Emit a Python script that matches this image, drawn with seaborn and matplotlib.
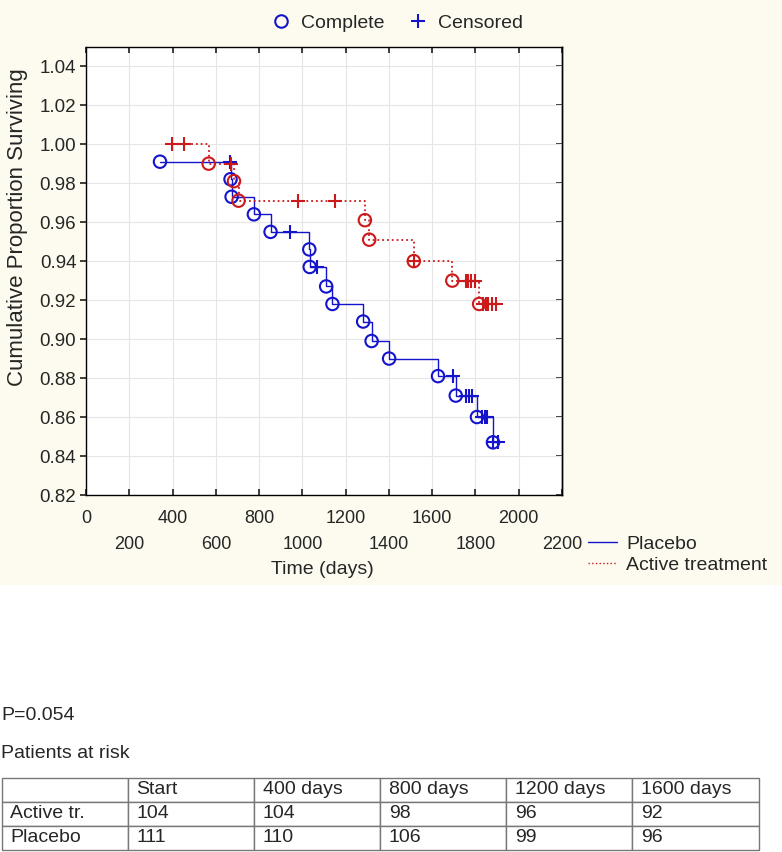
import numpy as np
import pandas as pd
from matplotlib import pyplot as plt
from matplotlib.lines import Line2D
from matplotlib.patches import Rectangle
import seaborn as sns

# Kaplan-Meier data (days, cumulative proportion surviving)
placebo_event_days = [342, 668, 673, 776, 853, 1032, 1034, 1110, 1139, 1281, 1320, 1401, 1627, 1709, 1807, 1881]
placebo_event_surv = [0.991, 0.982, 0.973, 0.964, 0.955, 0.946, 0.937, 0.927, 0.918, 0.909, 0.899, 0.890,
                      0.881, 0.871, 0.860, 0.847]
placebo_censor_days = [665, 945, 1068, 1697, 1758, 1770, 1783, 1830, 1843, 1853, 1881, 1904]

active_event_days = [567, 684, 705, 1289, 1309, 1515, 1693, 1817]
active_event_surv = [0.990, 0.981, 0.971, 0.961, 0.951, 0.940, 0.930, 0.918]
active_censor_days = [397, 453, 668, 981, 1150, 1515, 1754, 1766, 1778, 1797, 1835, 1848, 1860, 1878, 1897]

x_ticks = [0, 200, 400, 600, 800, 1000, 1200, 1400, 1600, 1800, 2000, 2200]
y_ticks = [0.82, 0.84, 0.86, 0.88, 0.90, 0.92, 0.94, 0.96, 0.98, 1.00, 1.02, 1.04]

p_value = "P=0.054"
risk_columns = ["", "Start", "400 days", "800 days", "1200 days", "1600 days"]
risk_active = ["Active tr.", "104", "104", "98", "96", "92"]
risk_placebo = ["Placebo", "111", "110", "106", "99", "96"]

BLUE = '#1414cc'
RED = '#cc1a1a'


def km_frame(event_days, event_surv, censor_days):
    ev = pd.DataFrame({'day': event_days, 'surv': event_surv, 'kind': 'event'})
    cens_surv = []
    for d in censor_days:
        prior = [s for t, s in zip(event_days, event_surv) if t <= d]
        cens_surv.append(prior[-1] if prior else 1.0)
    ce = pd.DataFrame({'day': censor_days, 'surv': cens_surv, 'kind': 'censor'})
    df = pd.concat([ev, ce]).sort_values(['day', 'surv'], ascending=[True, False])
    return df.reset_index(drop=True)


placebo = km_frame(placebo_event_days, placebo_event_surv, placebo_censor_days)
active = km_frame(active_event_days, active_event_surv, active_censor_days)

sns.set_theme(style='ticks')
plt.rcParams['font.family'] = ['Liberation Sans', 'DejaVu Sans']

fig = plt.figure(figsize=(7.82, 8.52), dpi=100)
fig.patches.append(Rectangle((0, 1 - 585 / 852), 1, 585 / 852, transform=fig.transFigure,
                             facecolor='#fdfbef', edgecolor='none', zorder=-10))
ax = fig.add_axes([86 / 782, 1 - 495 / 852, 476 / 782, 448.3 / 852])
ax.set_facecolor('white')

for df, color, ls, lw in [(placebo, BLUE, '-', 1.0), (active, RED, ':', 1.3)]:
    sns.lineplot(data=df, x='day', y='surv', drawstyle='steps-post', estimator=None, sort=False,
                 color=color, linestyle=ls, linewidth=lw, ax=ax, zorder=3)
    ev = df[df['kind'] == 'event']
    ce = df[df['kind'] == 'censor']
    sns.scatterplot(data=ev, x='day', y='surv', marker='o', s=80, facecolors='none',
                    edgecolor=color, linewidth=1.5, ax=ax, zorder=4)
    sns.scatterplot(data=ce, x='day', y='surv', marker='+', s=90, color=color,
                    linewidth=1.5, ax=ax, zorder=4)

ax.set_xlim(0, 2200)
ax.set_ylim(0.82, 1.05)
ax.set_xticks(x_ticks)
ax.set_xticklabels([str(t) if i % 2 == 0 else '\n' + str(t) for i, t in enumerate(x_ticks)],
                   linespacing=1.65)
ax.set_yticks(y_ticks)
ax.set_yticklabels([f'{v:.2f}' for v in y_ticks])
ax.grid(color='#e6e6e6', linewidth=0.8)
ax.tick_params(axis='x', direction='in', top=True, length=4, labelsize=13, pad=11)
ax.tick_params(axis='y', direction='out', right=False, length=4, labelsize=13.5, pad=3)
sec = ax.secondary_yaxis('right')
sec.set_yticks(y_ticks)
sec.tick_params(direction='in', length=4, labelright=False)
for sp in list(ax.spines.values()) + list(sec.spines.values()):
    sp.set_color('black')
    sp.set_linewidth(1.0)

ax.set_xlabel('Time (days)', fontsize=14)
ax.xaxis.set_label_coords(0.496, -0.147)
ax.set_ylabel('')
fig.text(18 / 782, 1 - 227 / 852, 'Cumulative Proportion Surviving', fontsize=16,
         rotation=90, rotation_mode='anchor', ha='center', va='center')

top_handles = [
    Line2D([], [], marker='o', ls='', mfc='none', mec=BLUE, mew=1.5, ms=9),
    Line2D([], [], marker='+', ls='', color=BLUE, mew=1.5, ms=10),
]
fig.legend(top_handles, ['Complete', 'Censored'], loc='center', ncol=2,
           bbox_to_anchor=(397 / 782, 1 - 23 / 852), frameon=False, fontsize=14,
           handlelength=1.0, handletextpad=0.5, columnspacing=1.25)

bottom_handles = [
    Line2D([], [], color=BLUE, lw=1.0, ls='-'),
    Line2D([], [], color=RED, lw=1.0, ls=':'),
]
fig.legend(bottom_handles, ['Placebo', 'Active treatment'], loc='upper left',
           bbox_to_anchor=(574 / 782, 1 - 522 / 852), frameon=False, fontsize=14,
           handlelength=1.5, handletextpad=0.5, labelspacing=0.15, borderpad=0.2)

fig.text(1 / 782, 1 - 715 / 852, p_value, fontsize=14, va='center', ha='left')
fig.text(1 / 782, 1 - 753 / 852, 'Patients at risk', fontsize=14, va='center', ha='left')

tax = fig.add_axes([1.5 / 782, 1 - 850 / 852, 757 / 782, 72.3 / 852])
tax.axis('off')
tbl = tax.table(cellText=[risk_columns, risk_active, risk_placebo], cellLoc='left',
                bbox=[0, 0, 1, 1])
tbl.auto_set_font_size(False)
tbl.set_fontsize(14)
for cell in tbl.get_celld().values():
    cell.set_edgecolor('#777777')
    cell.set_linewidth(1.0)
    cell.PAD = 0.07

fig.savefig('out.png', dpi=100)
